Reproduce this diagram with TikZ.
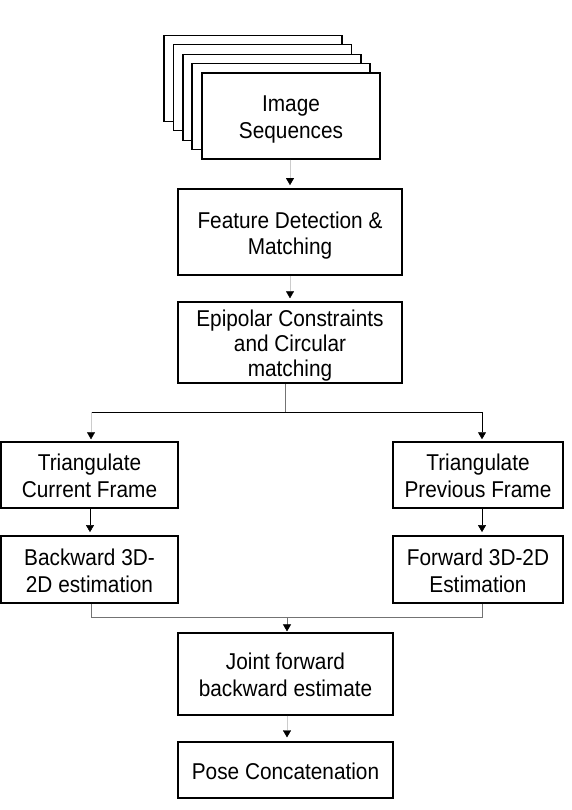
\documentclass[tikz,border=0pt]{standalone}
\usepackage{fontspec}
\setmainfont{Liberation Sans}
\usetikzlibrary{arrows.meta}
\newcommand\tx[2][24.5]{\raisebox{-4pt}[\height][\depth]{\scalebox{1}[1.1]{\fontsize{20.8}{#1}\selectfont\begin{tabular}{@{}c@{}}#2\end{tabular}}}}
\begin{document}
\begin{tikzpicture}[x=1pt,y=-1pt,
  box/.style={draw=black,line width=1.5pt,fill=white,align=center,inner sep=0pt},
  frm/.style={draw=black,line width=1.5pt,fill=white,minimum width=178pt,minimum height=86pt,inner sep=0pt},
  tip/.style={-{Triangle[width=8pt,length=7pt,black]}},
  link/.style={tip,line width=0.6pt,draw=black},
  faint/.style={tip,line width=0.3pt,draw=black!20},
  wire/.style={line width=0.8pt,draw=black!55},
  wireb/.style={line width=0.9pt,draw=black}]
\useasboundingbox (0,0) rectangle (572,810);
% image stack
\node[frm] (f4) at (253,78.5) {};
\node[frm] (f3) at (262.5,87.5) {};
\node[frm] (f2) at (272,97.5) {};
\node[frm] (f1) at (281,106.5) {};
\node[box,minimum width=178pt,minimum height=86pt] (img) at (291,116) {\tx{Image\\Sequences}};
% main chain
\node[box,minimum width=224pt,minimum height=86pt,line width=1.8pt] (feat) at (290,232) {\tx[24]{Feature Detection \&\\Matching}};
\node[box,minimum width=224pt,minimum height=81pt] (epi) at (290,342.5) {\tx[22.5]{Epipolar Constraints\\and Circular\\matching}};
\node[box,minimum width=177pt,minimum height=66pt] (tcur) at (89.5,475) {\tx{Triangulate\\Current Frame}};
\node[box,minimum width=177pt,minimum height=67pt,line width=1.8pt] (back) at (89.5,569.5) {\tx{Backward 3D-\\2D estimation}};
\node[box,minimum width=170pt,minimum height=66pt] (tprev) at (478,475) {\tx{Triangulate\\Previous Frame}};
\node[box,minimum width=170pt,minimum height=67pt,line width=1.8pt] (fwd) at (478,569.5) {\tx{Forward 3D-2D\\Estimation}};
\node[box,minimum width=215pt,minimum height=82pt,line width=1.2pt] (joint) at (285.5,674) {\tx{Joint forward\\backward estimate}};
\node[box,minimum width=215pt,minimum height=56pt,line width=1.2pt] (pose) at (285.5,770) {\tx{Pose Concatenation}};
% split coordinates
\coordinate (sC) at (285,412);
\coordinate (sL) at (91,412);
\coordinate (sR) at (482,412);
\coordinate (mL) at (91,617);
\coordinate (mC) at (287,617);
\coordinate (mR) at (482,617);
% connectors
\draw[faint,shorten >=3pt] (img.south -| feat.north) -- (feat.north);
\draw[faint,shorten >=3pt] (feat.south) -- (epi.north);
\draw[wire] (epi.south -| sC) -- (sC);
\draw[wireb] (sL) -- (sR);
\draw[faint,shorten >=2pt] (sL) -- (sL |- tcur.north);
\draw[link,shorten >=2pt] (sR) -- (sR |- tprev.north);
\draw[link,line width=0.4pt,shorten >=3pt] (tcur.south -| 90,0) -- (back.north -| 90,0);
\draw[link,shorten >=3pt] (tprev.south -| sR) -- (fwd.north -| sR);
\draw[wire] (back.south -| mL) -- (mL) -- (mR) -- (fwd.south -| mR);
\draw[link,draw=black!55,shorten >=1pt] (mC) -- (joint.north -| mC);
\draw[faint,shorten >=4pt] (joint.south -| mC) -- (pose.north -| mC);
\end{tikzpicture}
\end{document}
